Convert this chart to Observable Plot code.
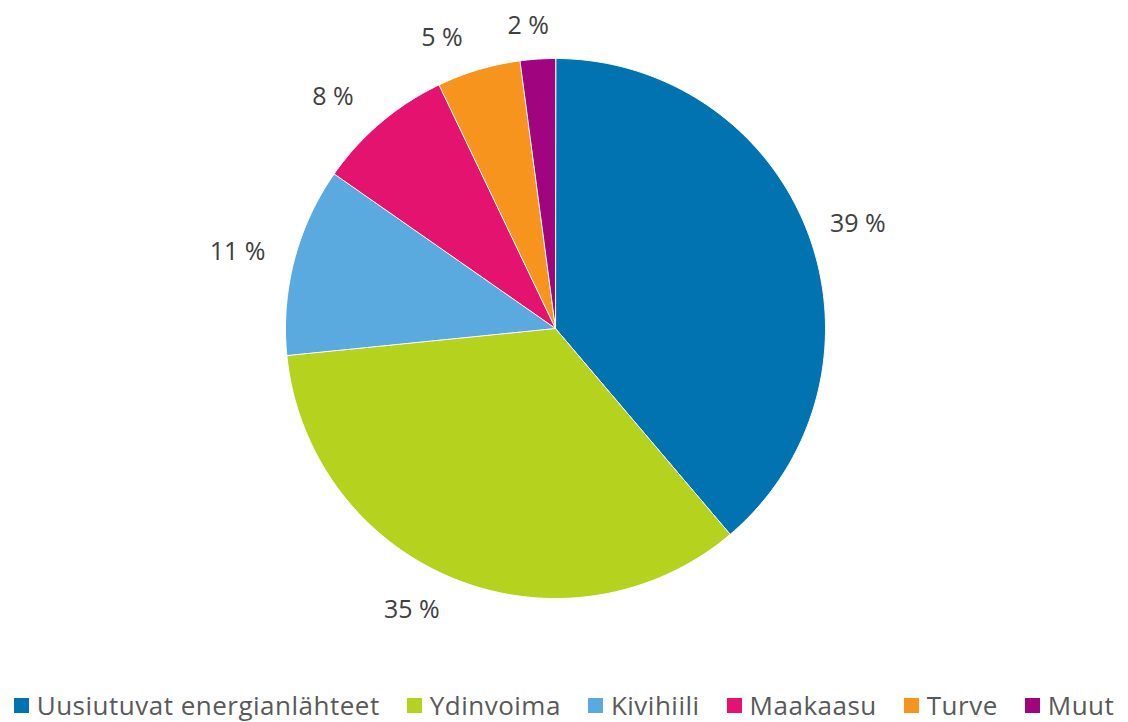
<!DOCTYPE html>
<html>
<head>
<meta charset="utf-8">
<script src="https://cdn.jsdelivr.net/npm/d3@7"></script>
<script src="https://cdn.jsdelivr.net/npm/@observablehq/plot@0.6"></script>
<style>
  body { margin: 0; background: #fff; font-family: "Open Sans", "DejaVu Sans", sans-serif; position: relative; width: 1128px; height: 722px; }
  #chart { width: 1128px; }
  #legend { position: absolute; left: 0; top: 689px; width: 1128px; height: 32px; line-height: 32px; display: flex; justify-content: center; align-items: center; gap: 27px; font-size: 26px; letter-spacing: 0.5px; color: #595959; white-space: nowrap; }
  #legend .item { display: flex; align-items: center; gap: 8px; }
  #legend .sw { width: 15px; height: 15px; display: inline-block; }
</style>
</head>
<body>
<div id="chart"></div>
<script>
const categories = ["Uusiutuvat energianlähteet", "Ydinvoima", "Kivihiili", "Maakaasu", "Turve", "Muut"];
const values = [38.8, 34.6, 11.3, 8.2, 5.0, 2.1];
const colors = ["#0073B0", "#B4D21E", "#5AAAE0", "#E3136F", "#F7941D", "#A0047F"];
const labels = ["39 %", "35 %", "11 %", "8 %", "5 %", "2 %"];

const W = 1128, H = 680, R = 270, CX = 555, CY = 328;
const FONT = 25, GAP = 22, CHARW = 15, HALFH = 11, LEFTSHIFT = 25;

const pie = d3.pie().sort(null).value(d => d.value);
const arcs = pie(categories.map((name, i) => ({name, value: values[i], label: labels[i]})));

// Polygon points for each slice, in unit coordinates (radius 1)
const slicePts = [];
for (const a of arcs) {
  slicePts.push({name: a.data.name, x: 0, y: 0});
  const n = Math.max(2, Math.ceil((a.endAngle - a.startAngle) / 0.01));
  for (let k = 0; k <= n; k++) {
    const t = a.startAngle + (a.endAngle - a.startAngle) * k / n;
    slicePts.push({name: a.data.name, x: Math.sin(t), y: Math.cos(t)});
  }
}
// Outside-end labels: text box placed just outside the arc midpoint
const labelPts = arcs.map(a => {
  const m = (a.startAngle + a.endAngle) / 2;
  const s = Math.sin(m), c = Math.cos(m);
  const hw = a.data.label.length * CHARW / 2;
  let px = (R + GAP) * s + s * hw;
  const py = (R + GAP) * c + c * HALFH;
  if (s < 0) px -= LEFTSHIFT * Math.abs(c) * Math.min(1, 4 * Math.abs(s));
  return {label: a.data.label, x: px / R, y: py / R};
});

const plot = Plot.plot({
  width: W, height: H,
  margin: 0,
  x: {domain: [-CX / R, (W - CX) / R], axis: null},
  y: {domain: [-(H - CY) / R, CY / R], axis: null},
  color: {domain: categories, range: colors},
  marks: [
    Plot.line(slicePts, {x: "x", y: "y", z: "name", fill: "name", stroke: "white", strokeWidth: 1, curve: "linear-closed"}),
    Plot.text(labelPts, {x: "x", y: "y", text: "label", fontSize: FONT, fill: "#404040", fontFamily: "Open Sans, DejaVu Sans, sans-serif"})
  ]
});
document.getElementById("chart").appendChild(plot);

const legend = document.createElement("div");
legend.id = "legend";
categories.forEach((c, i) => {
  const it = document.createElement("div");
  it.className = "item";
  const sw = document.createElement("span");
  sw.className = "sw";
  sw.style.background = colors[i];
  const tx = document.createElement("span");
  tx.textContent = c;
  it.appendChild(sw); it.appendChild(tx);
  legend.appendChild(it);
});
document.body.appendChild(legend);
</script>
</body>
</html>
